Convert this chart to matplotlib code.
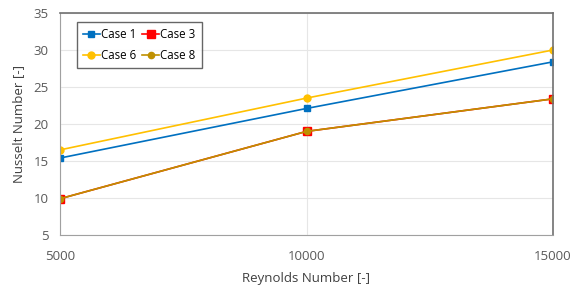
import matplotlib.pyplot as plt

plt.rcParams['font.family'] = ['Open Sans', 'DejaVu Sans']

reynolds = [5000, 10000, 15000]
case1 = [15.4, 22.1, 28.4]
case3 = [9.9, 19.0, 23.4]
case6 = [16.5, 23.5, 30.0]
case8 = [9.9, 19.0, 23.4]

fig = plt.figure(figsize=(5.73, 2.86), dpi=100)
ax = fig.add_axes([60/573, 1-235/286, 493/573, 222/286])

l1, = ax.plot(reynolds, case1, color='#0070C0', marker='s', ms=5, lw=1.2, label='Case 1')
l3, = ax.plot(reynolds, case3, color='#FF0000', marker='s', ms=6, lw=1.2, label='Case 3')
l6, = ax.plot(reynolds, case6, color='#FFC000', marker='o', ms=5, lw=1.2, label='Case 6')
l8, = ax.plot(reynolds, case8, color='#BF9000', marker='o', ms=4.5, lw=1.2, label='Case 8')

ax.set_xlim(5000, 15000)
ax.set_ylim(5, 35)
ax.set_xticks(reynolds)
ax.set_yticks(range(5, 36, 5))
ax.grid(True, color='#e6e6e6', lw=0.8)
ax.set_axisbelow(True)
for s in ['left', 'bottom']:
    ax.spines[s].set_color('#a0a0a0')
for s in ['top', 'right']:
    ax.spines[s].set_color('#707070')
    ax.spines[s].set_linewidth(1.2)
ax.tick_params(length=0, labelsize=9.5, colors='#595959', pad=8)
ax.tick_params(axis='x', pad=11)
ax.set_xlabel('Reynolds Number [-]', fontsize=9.5, color='#404040', labelpad=6)
ax.set_ylabel('Nusselt Number [-]', fontsize=9.5, color='#404040', labelpad=6)

# Excel-style row order: Case 1 / Case 3 on top, Case 6 / Case 8 below
leg = ax.legend([l1, l6, l3, l8], ['Case 1', 'Case 6', 'Case 3', 'Case 8'],
                ncol=2, loc='upper left', bbox_to_anchor=(0.034, 0.96), borderaxespad=0,
                fontsize=8.3, frameon=True, fancybox=False, edgecolor='#404040',
                handlelength=1.5, handletextpad=0.1, columnspacing=0.5,
                borderpad=0.5, labelspacing=0.75)
leg.get_frame().set_linewidth(1.0)

fig.savefig('out.png', dpi=100)
